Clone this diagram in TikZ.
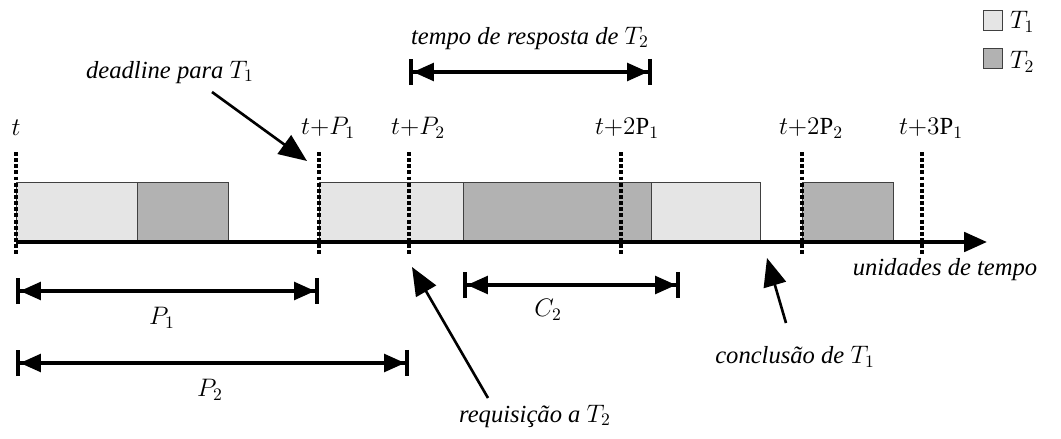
\documentclass[tikz,border=0pt]{standalone}
\usepackage{fontspec}
\setmainfont{Liberation Serif}
\definecolor{lightjob}{gray}{0.90}
\definecolor{darkjob}{gray}{0.70}
\definecolor{edgegray}{gray}{0.25}
\usetikzlibrary{arrows.meta, positioning}

\begin{document}
\begin{tikzpicture}[
  x=0.02cm, y=-0.02cm,
  font=\fontsize{14}{16}\selectfont,
  lbl/.style={inner sep=1pt},
  txt/.style={inner sep=1pt, font=\fontsize{14}{16}\selectfont\itshape},
  tjob/.style={fill=lightjob, draw=edgegray, line width=0.5pt},
  hjob/.style={fill=darkjob, draw=edgegray, line width=0.5pt},
  instant/.style={line width=2.2pt, dash pattern=on 2.2pt off 1.3pt},
  axis/.style={line width=2.2pt, -{Triangle[length=13pt, width=11pt]}},
  span/.style={line width=2.2pt, {Bar[width=15pt]Triangle[length=12pt, width=10pt]}-{Triangle[length=12pt, width=10pt]Bar[width=15pt]}},
  pointer/.style={line width=1.5pt, -{Triangle[length=16pt, width=13pt]}}
]
  \useasboundingbox (0,0) rectangle (1061,439);

  % Tarefas executadas
  \foreach \a/\b in {16/137, 319/463, 651/760} {
    \draw[tjob] (\a,182) rectangle (\b,242);
  }
  \foreach \a/\b in {137/228, 463/651, 802/893} {
    \draw[hjob] (\a,182) rectangle (\b,242);
  }

  % Eixo do tempo
  \coordinate (t0) at (16,242);
  \coordinate (tend) at (987,242);
  \draw[axis] (t0) -- (tend);
  \node[txt] (unid) at (945,270) {unidades de tempo};

  % Instantes marcados
  \foreach \i/\x in {0/16, 1/319, 2/409, 3/621, 4/802, 5/922} {
    \coordinate (top\i) at (\x,152);
    \coordinate (bot\i) at (\x,256);
    \draw[instant] (top\i) -- (bot\i);
  }
  \node[lbl] (m0) at (16,128) {$t$};
  \node[lbl] (m1) at (328,128) {$t{+}P_1$};
  \node[lbl] (m2) at (418,128) {$t{+}P_2$};
  \node[lbl] (m3) at (627,128) {$t{+}2\mathrm{P}_1$};
  \node[lbl] (m4) at (811,128) {$t{+}2\mathrm{P}_2$};
  \node[lbl] (m5) at (931,128) {$t{+}3\mathrm{P}_1$};

  % Periodos e tempos
  \coordinate (pa) at (16,291);
  \coordinate (pb) at (319,291);
  \draw[span] (pa) -- (pb);
  \node[lbl] (p1) at (162,318) {$P_1$};
  \coordinate (qa) at (16,363);
  \coordinate (qb) at (409,363);
  \draw[span] (qa) -- (qb);
  \node[lbl] (p2) at (210,390) {$P_2$};
  \coordinate (ca) at (463,285);
  \coordinate (cb) at (680,285);
  \draw[span] (ca) -- (cb);
  \node[lbl] (c2) at (548,310) {$C_2$};
  \coordinate (ra) at (409,72);
  \coordinate (rb) at (652,72);
  \draw[span] (ra) -- (rb);
  \node[txt] (resp) at (530,38) {tempo de resposta de $T_2$};

  % Anotacoes
  \node[txt] (dead) at (170,72) {deadline para $T_1$};
  \coordinate (deadtip) at (307,161);
  \draw[pointer] (212,92) -- (deadtip);
  \node[txt] (req) at (535,416) {requisição a $T_2$};
  \coordinate (reqtip) at (412,267);
  \draw[pointer] (488,398) -- (reqtip);
  \node[txt] (concl) at (795,357) {conclusão de $T_1$};
  \coordinate (concltip) at (767,258);
  \draw[pointer] (786,323) -- (concltip);

  % Legenda
  \draw[tjob] (983,10) rectangle (1002,30);
  \node[lbl, anchor=west] (leg1) at (1008,22) {$T_1$};
  \draw[hjob] (983,48) rectangle (1002,68);
  \node[lbl, anchor=west] (leg2) at (1008,62) {$T_2$};
\end{tikzpicture}
\end{document}
